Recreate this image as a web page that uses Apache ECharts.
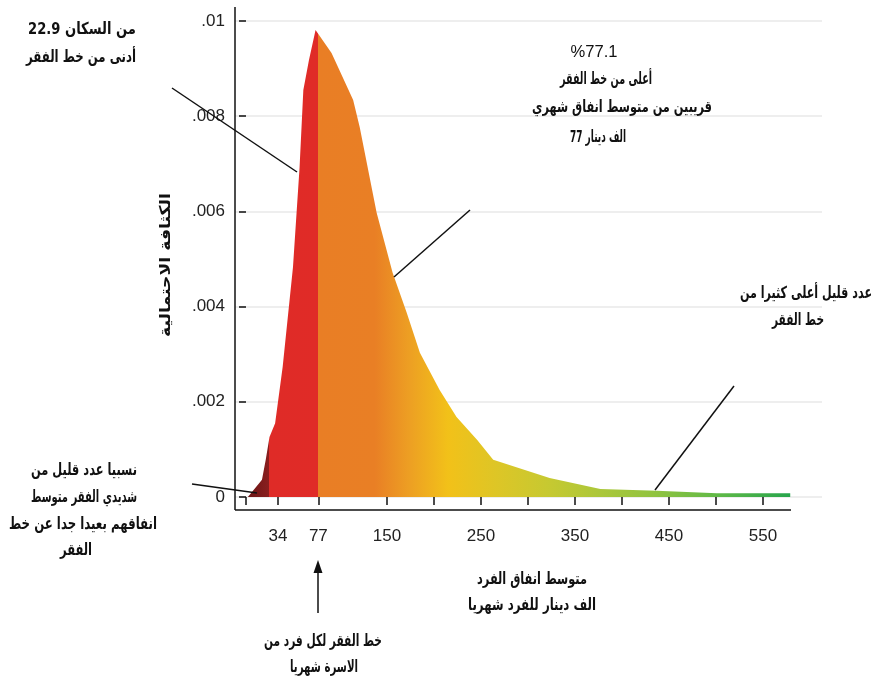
<!DOCTYPE html>
<html>
<head>
<meta charset="utf-8">
<script src="https://cdn.jsdelivr.net/npm/echarts@6/dist/echarts.min.js"></script>
<style>
html,body{margin:0;padding:0;background:#fff;}
#chart{width:874px;height:684px;}
</style>
</head>
<body>
<div id="chart"></div>
<script>
// ---- data ----
const xValues = [2, 17, 21, 25, 31, 39, 50, 57, 61, 67, 74, 91, 114, 121, 139, 156, 171, 185, 206, 224, 246, 263, 323, 377, 437, 501, 579];
const densValues = [0, 0.00036, 0.00078, 0.00126, 0.00155, 0.00273, 0.00483, 0.00693, 0.00855, 0.00918, 0.00981, 0.00933, 0.00834, 0.00777, 0.00597, 0.00471, 0.00387, 0.00303, 0.00225, 0.00168, 0.0012, 0.00078, 0.0004, 0.00017, 0.00013, 0.00008, 0.00008];
const yTickValues = [0, 0.002, 0.004, 0.006, 0.008, 0.01];
const yTickLabels = ['0', '.002', '.004', '.006', '.008', '.01'];
const xTickValues = [0, 34, 77, 150, 200, 250, 300, 350, 400, 450, 500, 550];
const xLabelValues = [34, 77, 150, 250, 350, 450, 550];
const xLabelTexts = ['34', '77', '150', '250', '350', '450', '550'];

// colour bands along x (value, colour)
const colorBands = [
  [2, '#6c1515'], [25, '#8a1f1f'], [25, '#df2b27'], [77, '#e02b27'], [77, '#e97e25'],
  [137, '#e97f25'], [175, '#eda023'], [215, '#f2c119'], [270, '#dcc627'], [323, '#c6c931'],
  [377, '#abc73a'], [437, '#8fc340'], [505, '#5db847'], [579, '#27a54c']
];

const chart = echarts.init(document.getElementById('chart'));
const xmin = xValues[0], xmax = xValues[xValues.length - 1];
const stops = colorBands.map(b => ({ offset: (b[0] - xmin) / (xmax - xmin), color: b[1] }));

const arFont = 'bold 15px "DejaVu Sans", sans-serif';
const mctx = document.createElement('canvas').getContext('2d');
function txt(text, x, y, targetW, extra, font, sy) {
  const f = font || arFont;
  mctx.font = f;
  const w = mctx.measureText(text).width;
  const sx = targetW ? targetW / w : 1;
  return Object.assign({
    type: 'text', x: x, y: y, z: 100, scaleX: sx, scaleY: sy || 1.1,
    style: { text: text, font: f, fill: '#111', align: 'center', verticalAlign: 'middle' }
  }, extra || {});
}
function seg(x1, y1, x2, y2, w) {
  return { type: 'line', z: 100, shape: { x1, y1, x2, y2 }, style: { stroke: '#111', lineWidth: w || 1.5 } };
}

const option = {
  backgroundColor: '#fff',
  animation: false,
  grid: { left: 235, right: 52, top: 21, bottom: 187 },
  xAxis: {
    type: 'value', min: -11.7, max: 612.8, offset: 13,
    axisLine: { show: false },
    axisTick: { show: true, length: 8, customValues: xTickValues, lineStyle: { color: '#111', width: 1.5 } },
    axisLabel: {
      customValues: xLabelValues, margin: 18, color: '#222', fontSize: 17,
      fontFamily: '"Liberation Sans", Arial, sans-serif',
      formatter: v => xLabelTexts[xLabelValues.indexOf(v)] || ''
    },
    splitLine: { show: false }
  },
  yAxis: {
    type: 'value', min: 0, max: 0.01, interval: 0.002,
    axisLine: { show: false },
    axisTick: { show: true, length: 7, lineStyle: { color: '#111', width: 1.5 } },
    axisLabel: {
      margin: 10, color: '#222', fontSize: 17,
      fontFamily: '"Liberation Sans", Arial, sans-serif',
      formatter: v => {
        const i = yTickValues.findIndex(t => Math.abs(t - v) < 1e-9);
        return i >= 0 ? yTickLabels[i] : '';
      }
    },
    splitLine: { show: true, lineStyle: { color: '#e8e8e8', width: 1.5 } }
  },
  series: [{
    type: 'line',
    data: xValues.map((x, i) => [x, densValues[i]]),
    symbol: 'none',
    smooth: false,
    lineStyle: { width: 0 },
    areaStyle: { opacity: 1, color: new echarts.graphic.LinearGradient(0, 0, 1, 0, stops) }
  }],
  graphic: [
    // axis lines
    seg(235, 7, 235, 510, 1.5),
    seg(235, 510, 791, 510, 1.5),
    // annotation leader lines
    seg(172, 88, 297, 172),
    seg(470, 210, 394, 277),
    seg(734, 386, 655, 490),
    seg(192, 484, 257, 493),
    // arrow to poverty line
    seg(318, 613, 318, 570),
    { type: 'polygon', z: 100, shape: { points: [[318, 560], [313.5, 573], [322.5, 573]] }, style: { fill: '#111' } },
    // y axis title
    txt('الكثافة الاحتمالية', 166, 265, 144, { rotation: Math.PI / 2 }, 'bold 13px "DejaVu Sans", sans-serif', 1.15),
    // top-left annotation
    txt('من السكان 22.9', 82, 30, 108),
    txt('أدنى من خط الفقر', 81, 58, 110),
    // top-middle annotation
    txt('%77.1', 594, 52, 47, null, '16px "Liberation Sans", sans-serif', 1.05),
    txt('أعلى من خط الفقر', 606, 80, 92),
    txt('قريبين من متوسط انفاق شهري', 622, 108, 180),
    txt('الف دينار 77', 598, 138, 56),
    // right annotation
    txt('عدد قليل أعلى كثيرا من', 806, 294, 132),
    txt('خط الفقر', 798, 321, 52),
    // bottom-left annotation
    txt('نسبيا عدد قليل من', 84, 471, 106),
    txt('شديدي الفقر متوسط', 84, 498, 106),
    txt('انفاقهم بعيدا جدا عن خط', 83, 525, 148),
    txt('الفقر', 76, 551, 32),
    // x axis title
    txt('متوسط انفاق الفرد', 532, 580, 110),
    txt('الف دينار للفرد شهريا', 532, 606, 128),
    // poverty line note
    txt('خط الفقر لكل فرد من', 323, 642, 118),
    txt('الاسرة شهريا', 324, 668, 68)
  ]
};
chart.setOption(option);
</script>
</body>
</html>
